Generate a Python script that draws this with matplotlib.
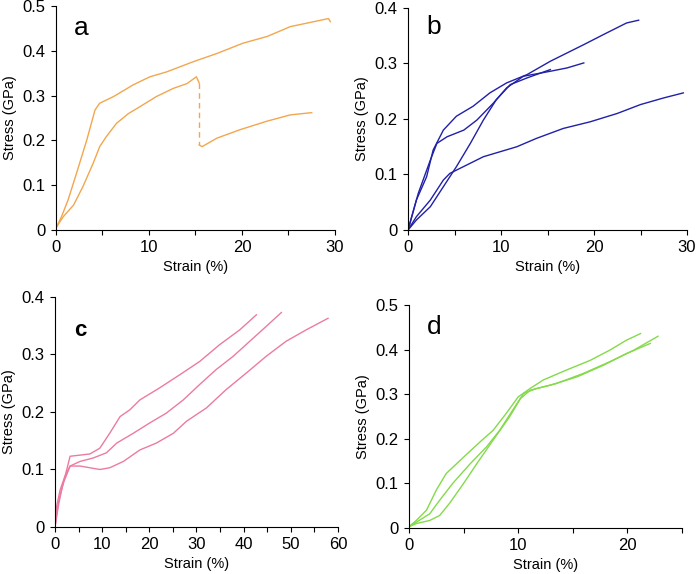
import matplotlib
matplotlib.use('Agg')
import matplotlib.pyplot as plt
from matplotlib.ticker import MultipleLocator

plt.rcParams['font.family'] = ['Liberation Sans', 'DejaVu Sans']

# ---- panel a (orange) ----
a_up_x = [0, 0.07, 0.6, 1.3, 2.2, 3.3, 4.2, 4.7, 6.2, 8.3, 10.1, 11.9, 14.8, 17.3, 20.1, 22.7, 25.2, 29.3, 29.5]
a_up_y = [0.005, 0.007, 0.03, 0.067, 0.126, 0.200, 0.268, 0.283, 0.298, 0.324, 0.342, 0.353, 0.376, 0.394, 0.417, 0.432, 0.454, 0.472, 0.465]
a_lo1_x = [0, 0.8, 1.9, 2.9, 4.0, 4.7, 5.4, 6.5, 7.8, 9.0, 10.8, 12.6, 14.1, 15.1, 15.4]
a_lo1_y = [0.005, 0.030, 0.056, 0.097, 0.149, 0.186, 0.208, 0.238, 0.260, 0.275, 0.298, 0.316, 0.327, 0.342, 0.328]
a_drop_x = [15.4, 15.4]
a_drop_y = [0.328, 0.190]
a_lo2_x = [15.4, 15.7, 17.3, 19.8, 22.7, 25.2, 27.5]
a_lo2_y = [0.190, 0.186, 0.205, 0.224, 0.243, 0.257, 0.262]

# ---- panel b (blue) ----
b1_x = [0, 0.9, 2.0, 2.7, 3.8, 5.2, 7.0, 8.8, 10.6, 12.8, 15.3, 18.9, 21.0, 23.5, 24.8]
b1_y = [0, 0.054, 0.096, 0.144, 0.180, 0.205, 0.223, 0.247, 0.265, 0.280, 0.304, 0.334, 0.352, 0.373, 0.378]
b2_x = [0, 1.1, 2.4, 3.1, 4.2, 6.0, 7.4, 9.2, 10.6, 12.4, 15.3, 17.1, 18.9]
b2_y = [0, 0.066, 0.126, 0.156, 0.168, 0.180, 0.198, 0.229, 0.256, 0.277, 0.286, 0.292, 0.301]
b3_x = [0, 0.9, 2.4, 3.8, 5.2, 6.7, 8.1, 9.5, 11.0, 12.8, 15.3]
b3_y = [0, 0.018, 0.042, 0.078, 0.114, 0.156, 0.198, 0.235, 0.262, 0.274, 0.289]
b4_x = [0, 0.9, 2.4, 3.8, 4.5, 6.3, 8.1, 9.9, 11.7, 13.8, 16.7, 19.6, 22.5, 25.0, 27.5, 29.6]
b4_y = [0, 0.024, 0.054, 0.090, 0.102, 0.117, 0.132, 0.141, 0.150, 0.165, 0.183, 0.195, 0.210, 0.226, 0.238, 0.247]

# ---- panel c (pink) ----
c1_x = [0, 0.7, 1.4, 2.5, 3.2, 5.3, 7.4, 9.5, 11.6, 13.8, 15.9, 18.0, 22.2, 26.5, 30.7, 34.9, 39.2, 42.7]
c1_y = [0, 0.036, 0.065, 0.100, 0.123, 0.125, 0.127, 0.137, 0.163, 0.192, 0.204, 0.221, 0.242, 0.265, 0.288, 0.317, 0.343, 0.369]
c2_x = [0, 0.7, 1.8, 3.2, 5.3, 8.1, 10.9, 13.1, 16.6, 20.1, 23.6, 27.2, 30.7, 34.2, 37.8, 41.3, 44.8, 48.0]
c2_y = [0, 0.042, 0.077, 0.106, 0.114, 0.120, 0.129, 0.146, 0.163, 0.181, 0.198, 0.221, 0.248, 0.274, 0.297, 0.323, 0.349, 0.373]
c3_x = [0, 0.35, 1.1, 2.1, 3.2, 5.3, 7.4, 9.5, 11.6, 14.5, 18.0, 21.5, 25.1, 27.9, 32.1, 36.3, 40.6, 44.8, 49.0, 53.3, 57.9]
c3_y = [0, 0.036, 0.065, 0.088, 0.106, 0.106, 0.103, 0.100, 0.103, 0.114, 0.134, 0.146, 0.163, 0.184, 0.207, 0.239, 0.268, 0.297, 0.323, 0.343, 0.363]

# ---- panel d (green) ----
d1_x = [0, 0.67, 1.6, 2.5, 3.4, 5.0, 6.5, 7.7, 8.9, 10.0, 11.1, 12.3, 14.4, 16.6, 18.4, 19.9, 21.2]
d1_y = [0.003, 0.017, 0.040, 0.085, 0.122, 0.159, 0.193, 0.219, 0.257, 0.294, 0.313, 0.332, 0.354, 0.376, 0.399, 0.421, 0.436]
d2_x = [0, 0.67, 1.9, 2.8, 4.0, 5.6, 7.1, 8.3, 9.7, 10.5, 11.7, 13.5, 16.0, 18.4, 20.6, 22.8]
d2_y = [0.003, 0.013, 0.032, 0.062, 0.100, 0.144, 0.182, 0.219, 0.272, 0.302, 0.313, 0.324, 0.347, 0.373, 0.399, 0.430]
d3_x = [0, 0.67, 1.9, 2.8, 3.7, 5.0, 6.2, 7.7, 9.2, 10.2, 11.1, 12.9, 15.4, 17.8, 19.9, 22.1]
d3_y = [0.003, 0.010, 0.017, 0.028, 0.055, 0.100, 0.144, 0.197, 0.249, 0.290, 0.309, 0.320, 0.339, 0.365, 0.391, 0.414]

ORANGE = '#F2A64E'
BLUE = '#2020A8'
PINK = '#EC7BA2'
GREEN = '#84DA4A'

fig = plt.figure(figsize=(6.97, 5.74), dpi=100)
ax_a = fig.add_axes([0.0803, 0.5993, 0.4003, 0.3902])
ax_b = fig.add_axes([0.5854, 0.5993, 0.4003, 0.3868])
ax_c = fig.add_axes([0.0789, 0.0819, 0.4060, 0.4007])
ax_d = fig.add_axes([0.5868, 0.0801, 0.3917, 0.3885])


def style(ax, xmax, ymax, xmajor, xminor):
    ax.set_xlim(0, xmax); ax.set_ylim(0, ymax)
    ax.xaxis.set_major_locator(MultipleLocator(xmajor))
    ax.xaxis.set_minor_locator(MultipleLocator(xminor))
    ax.yaxis.set_major_locator(MultipleLocator(0.1))
    ax.yaxis.set_major_formatter(plt.FuncFormatter(lambda v, p: '0' if abs(v) < 1e-9 else f'{v:.1f}'))
    for s in ('top', 'right'):
        ax.spines[s].set_visible(False)
    for s in ('left', 'bottom'):
        ax.spines[s].set_linewidth(0.8)
    ax.tick_params(which='both', direction='out', length=3.5, width=0.8, labelsize=12, pad=4)
    ax.set_xlabel('Strain (%)', fontsize=10.5, labelpad=3)
    ax.set_ylabel('Stress (GPa)', fontsize=10.5, labelpad=4)


lw = 1.0
ax_a.plot(a_up_x, a_up_y, color=ORANGE, lw=lw)
ax_a.plot(a_lo1_x, a_lo1_y, color=ORANGE, lw=lw)
ax_a.plot(a_drop_x, a_drop_y, color=ORANGE, lw=lw, ls=(0, (4, 3)))
ax_a.plot(a_lo2_x, a_lo2_y, color=ORANGE, lw=lw)
style(ax_a, 30, 0.5, 10, 5)

for xs, ys in [(b1_x, b1_y), (b2_x, b2_y), (b3_x, b3_y), (b4_x, b4_y)]:
    ax_b.plot(xs, ys, color=BLUE, lw=lw)
style(ax_b, 30, 0.4, 10, 5)

for xs, ys in [(c1_x, c1_y), (c2_x, c2_y), (c3_x, c3_y)]:
    ax_c.plot(xs, ys, color=PINK, lw=lw)
style(ax_c, 60, 0.4, 10, 5)

for xs, ys in [(d1_x, d1_y), (d2_x, d2_y), (d3_x, d3_y)]:
    ax_d.plot(xs, ys, color=GREEN, lw=lw)
style(ax_d, 25, 0.5, 10, 5)

fig.text(81 / 697, 1 - 28 / 574, 'a', fontsize=19, ha='center', va='center')
fig.text(434 / 697, 1 - 27 / 574, 'b', fontsize=19, ha='center', va='center')
fig.text(80 / 697, 1 - 330 / 574, 'c', fontsize=16, fontweight='bold', ha='center', va='center')
fig.text(434 / 697, 1 - 327 / 574, 'd', fontsize=19, ha='center', va='center')

fig.savefig('out.png', dpi=100)
